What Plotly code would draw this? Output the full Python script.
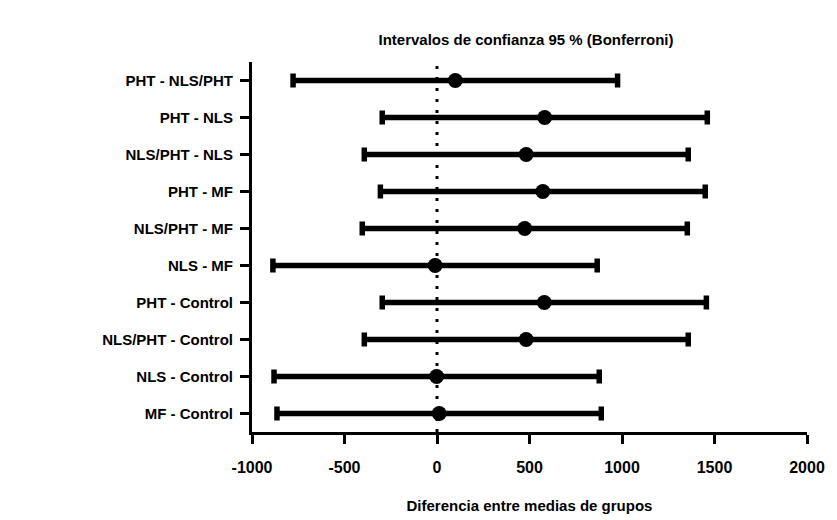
import plotly.graph_objects as go

# Comparisons, listed top to bottom as in the chart
comparisons = ["PHT - NLS/PHT", "PHT - NLS", "NLS/PHT - NLS", "PHT - MF", "NLS/PHT - MF",
               "NLS - MF", "PHT - Control", "NLS/PHT - Control", "NLS - Control", "MF - Control"]
mean_diff = [99, 582, 482, 572, 474, -10, 580, 482, -2, 12]
ci_lower = [-778, -296, -393, -306, -404, -887, -296, -393, -881, -865]
ci_upper = [976, 1461, 1358, 1450, 1353, 866, 1456, 1358, 877, 888]
x_ticks = [-1000, -500, 0, 500, 1000, 1500, 2000]

FONT = "Arial, Liberation Sans, sans-serif"

err_plus = [u - m for u, m in zip(ci_upper, mean_diff)]
err_minus = [m - l for m, l in zip(mean_diff, ci_lower)]

fig = go.Figure()
fig.add_trace(go.Scatter(
    x=mean_diff, y=comparisons, mode="markers",
    marker=dict(color="black", size=15, symbol="circle"),
    error_x=dict(type="data", symmetric=False, array=err_plus, arrayminus=err_minus,
                 color="black", thickness=5.5, width=7),
    showlegend=False, cliponaxis=False,
))

fig.add_shape(type="line", x0=0, x1=0, xref="x", y0=0, y1=1, yref="paper",
              line=dict(color="black", width=3, dash="3px,8px"), layer="below")

fig.update_layout(
    width=837, height=520,
    margin=dict(l=252, r=30, t=62, b=88, pad=0),
    paper_bgcolor="white", plot_bgcolor="white",
    font=dict(family=FONT, color="black", size=15, weight="bold"),
    title=dict(text="Intervalos de confianza 95 % (Bonferroni)", x=526/837, xanchor="center",
               y=1 - 40/520, yanchor="middle",
               font=dict(family=FONT, size=15, color="black", weight="bold")),
    xaxis=dict(range=[-1000, 2000], tickvals=x_ticks, ticktext=[str(v) for v in x_ticks],
               showgrid=False, zeroline=False, showline=True, linecolor="black", linewidth=3,
               ticks="outside", ticklen=9, tickwidth=3, tickcolor="black",
               ticklabelstandoff=10, automargin=False,
               tickfont=dict(family=FONT, size=16, color="black", weight="bold"),
               title=dict(text="Diferencia entre medias de grupos", standoff=26,
                          font=dict(family=FONT, size=15, color="black", weight="bold"))),
    yaxis=dict(type="category", categoryorder="array", categoryarray=comparisons[::-1],
               range=[-0.5, 9.5], showgrid=False, zeroline=False, showline=True,
               linecolor="black", linewidth=3, ticks="outside", ticklen=9, tickwidth=3,
               tickcolor="black", ticklabelstandoff=4, automargin=False,
               tickfont=dict(family=FONT, size=15, color="black", weight="bold")),
)

fig.write_html("out.html")
